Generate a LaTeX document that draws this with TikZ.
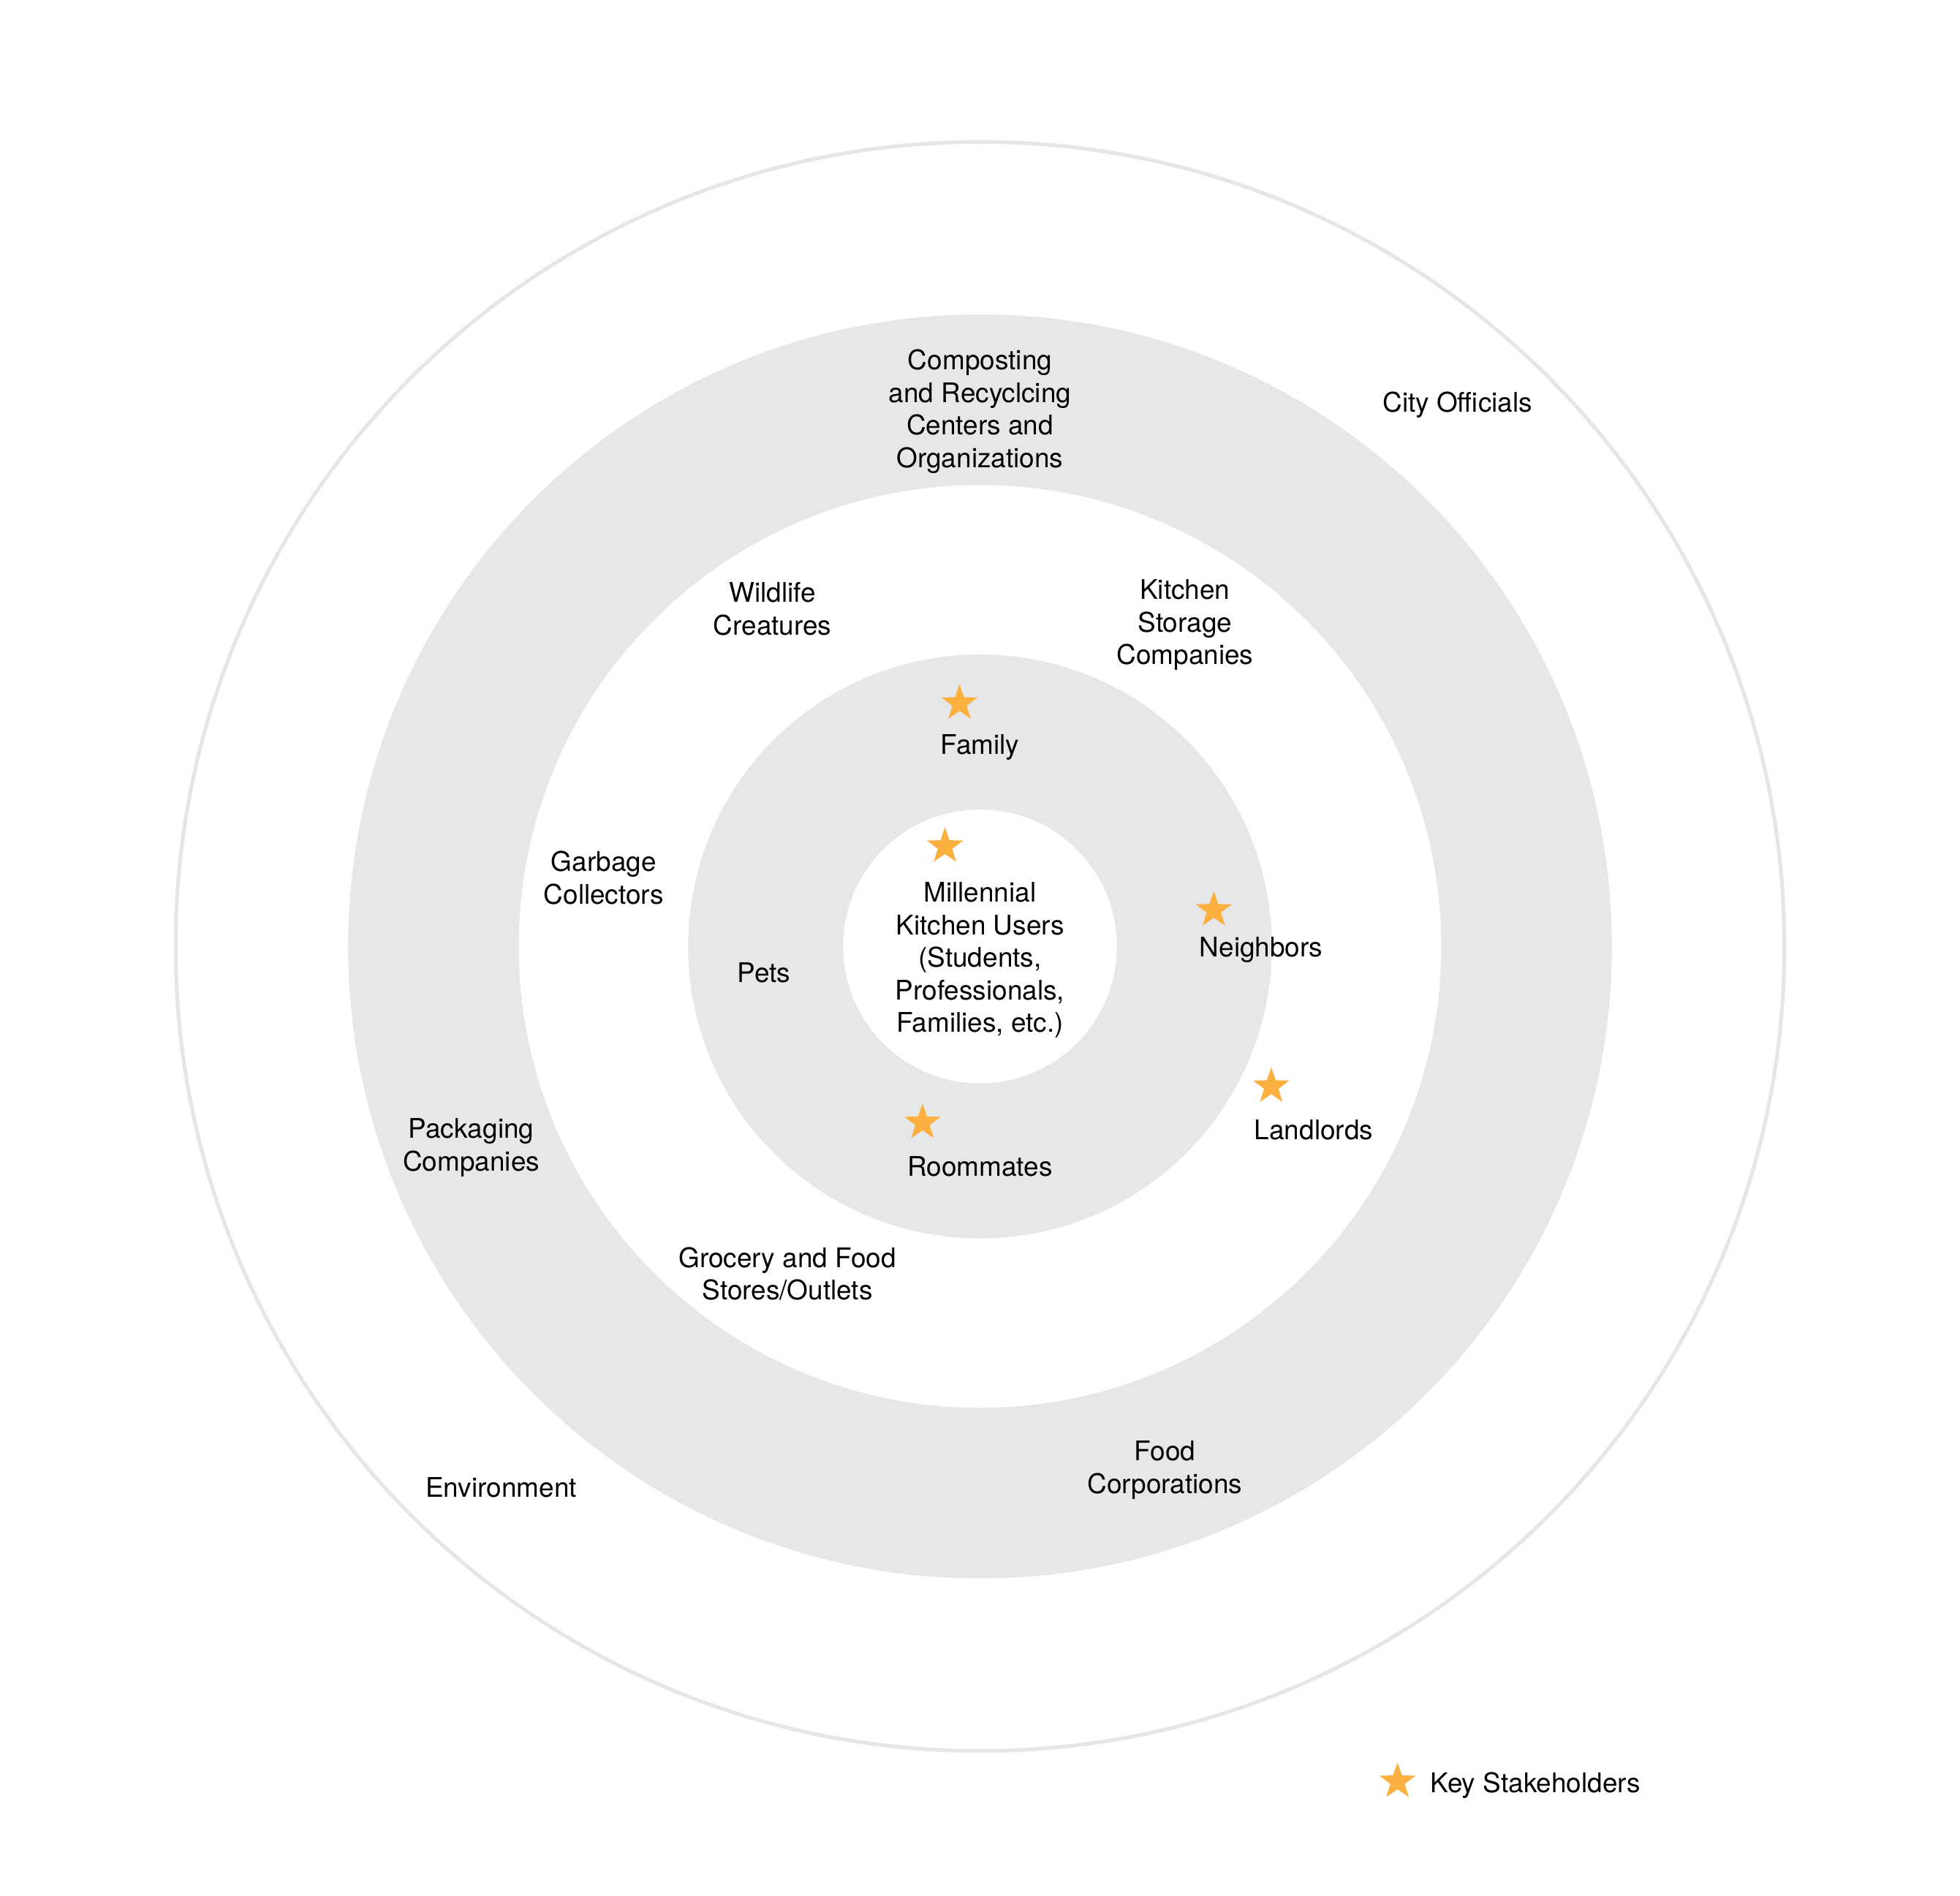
\documentclass[tikz,border=0pt]{standalone}
\usepackage{fontspec}
\setmainfont{TeX Gyre Heros}
\usepackage{xcolor}
\usetikzlibrary{shapes}
\definecolor{ringgray}{HTML}{E6E7E8}
\definecolor{linegray}{HTML}{E6E6E6}
\definecolor{starorange}{HTML}{FBB040}

\begin{document}
\begin{tikzpicture}[x=0.02cm,y=0.02cm,
  label/.style={align=center,font=\fontsize{12.3}{14.8}\selectfont,inner sep=0pt,yshift=-0.04cm},
  keystar/.style={star,star points=5,star point ratio=2.5,fill=starorange,draw=none,minimum size=0.61cm,inner sep=0pt}]
\useasboundingbox (-784,-759) rectangle (784,757);
\draw[linegray,line width=1.7pt] (0,0) circle (643.5);
\fill[ringgray] (0,0) circle (505.5);
\fill[white] (0,0) circle (369);
\fill[ringgray] (0,0) circle (233.5);
\fill[white] (0,0) circle (109.5);
\node[label] (CITY) at (382,435) {City Officials};
\node[label] (COMP) at (0,430) {Composting\\and Recyclcing\\Centers and\\Organizations};
\node[label] (WILD) at (-166,272) {Wildlife\\Creatures};
\node[label] (STOR) at (164,259) {Kitchen\\Storage\\Companies};
\node[keystar] (FAMs) at (-16.4,194.4) {};
\node[label] (FAM) at (0,161) {Family};
\node[label] (GARB) at (-301,57) {Garbage\\Collectors};
\node[keystar] (USRs) at (-28,80) {};
\node[label] (USR) at (0,-9) {Millennial\\Kitchen Users\\(Students,\\Professionals,\\Families, etc.)};
\node[keystar] (NEIs) at (187,29) {};
\node[label] (NEI) at (225,-1) {Neighbors};
\node[label] (PETS) at (-173,-19) {Pets};
\node[keystar] (LANs) at (233,-112) {};
\node[label] (LAN) at (267,-145) {Landlords};
\node[label] (PACK) at (-407,-159) {Packaging\\Companies};
\node[keystar] (ROOs) at (-46,-141) {};
\node[label] (ROO) at (0,-174) {Roommates};
\node[label] (GROC) at (-154,-260) {Grocery and Food\\Stores/Outlets};
\node[label] (FOOD) at (148,-417) {Food\\Corporations};
\node[label] (ENV) at (-383,-431) {Environment};
\node[keystar] (KEYs) at (334,-668) {};
\node[label,anchor=west] (KEY) at (360,-669) {Key Stakeholders};
\end{tikzpicture}
\end{document}
